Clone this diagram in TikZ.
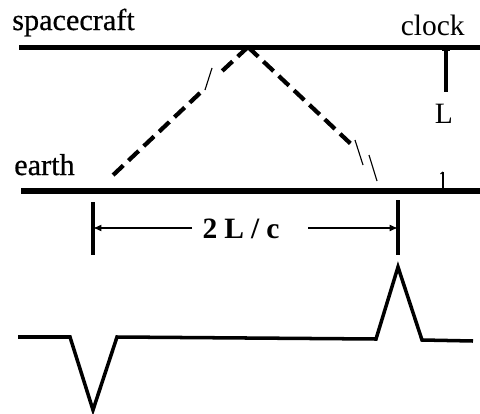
\documentclass[tikz,border=0pt]{standalone}
\usepackage{fontspec}
\setmainfont{Liberation Serif}
\newfontfamily\heavyserif[FakeBold=0.6]{Liberation Serif}
\usetikzlibrary{arrows.meta}

\begin{document}
\begin{tikzpicture}[
        x=0.025cm, y=-0.025cm,
        every node/.style={font=\fontsize{21}{25}\selectfont, inner sep=0pt},
        heavy/.style={font=\fontsize{21.5}{25}\heavyserif},
        track/.style={line width=3.9pt},
        ray/.style={line width=3pt, dash pattern=on 10pt off 5pt},
        flaw/.style={line width=0.8pt},
        bar/.style={line width=2.2pt},
        dim/.style={line width=1.1pt, -{Latex[length=6pt,width=5pt]}},
        pulse/.style={line width=2.5pt, line join=miter},
      ]
      \useasboundingbox (0,0) rectangle (480,414);

      % the two world lines
      \coordinate (scl) at (19,47.5);
      \coordinate (scr) at (480,47.5);
      \coordinate (erl) at (21,191);
      \coordinate (err) at (480,191);
      \draw[track] (scl) -- (scr);
      \draw[track] (erl) -- (err);

      \node[heavy, anchor=base west] (sc)  at (12,30)  {spacecraft};
      \node[anchor=base east] (clk) at (465,35) {clock};
      \node[heavy, anchor=base west] (ea)  at (14,175) {earth};

      % clock distance
      \coordinate (ctop) at (446,47.5);
      \coordinate (cbot) at (446,92);
      \draw[bar] (ctop) -- (cbot);
      \draw[line width=1.2pt] (442,50) -- (450,50);
      \node[anchor=base] (len) at (444,123) {L};
      \coordinate (tka) at (443,172);
      \coordinate (tkb) at (443,189);
      \draw[flaw] (tka) -- (tkb);
      \draw[flaw] (440.5,174) -- (tka);

      % light rays
      \coordinate (apex) at (248,47);
      \coordinate (lgap) at (220,73);
      \coordinate (lres) at (200,93);
      \coordinate (lend) at (110,178);
      \coordinate (rend) at (352,145);
      \draw[ray] (apex) -- (lgap);
      \draw[ray] (lres) -- (lend);
      \draw[ray] (apex) -- (rend);
      \draw[flaw] (212,68) -- (205,90);
      \draw[flaw] (355,140) -- (363,165);
      \draw[flaw] (369,155) -- (377,181);

      % round trip time
      \coordinate (dla) at (93,202);
      \coordinate (dlb) at (93,255);
      \coordinate (dra) at (398,200);
      \coordinate (drb) at (398,255);
      \draw[bar] (dla) -- (dlb);
      \draw[bar] (dra) -- (drb);
      \node[anchor=base, font=\fontsize{21}{25}\selectfont\bfseries] (rt) at (241,238)
        {2\hspace{5pt}L\hspace{5pt}/\hspace{5pt}c};
      \draw[dim] (192,228) -- (dla |- 0,228);
      \draw[dim] (308,228) -- (dra |- 0,228);

      % signal trace
      \draw[pulse] (18,337) -- (70,337) -- (93,410) -- (117,337)
        -- (376,339) -- (398,267) -- (422,340) -- (473,341);
    \end{tikzpicture}
\end{document}
